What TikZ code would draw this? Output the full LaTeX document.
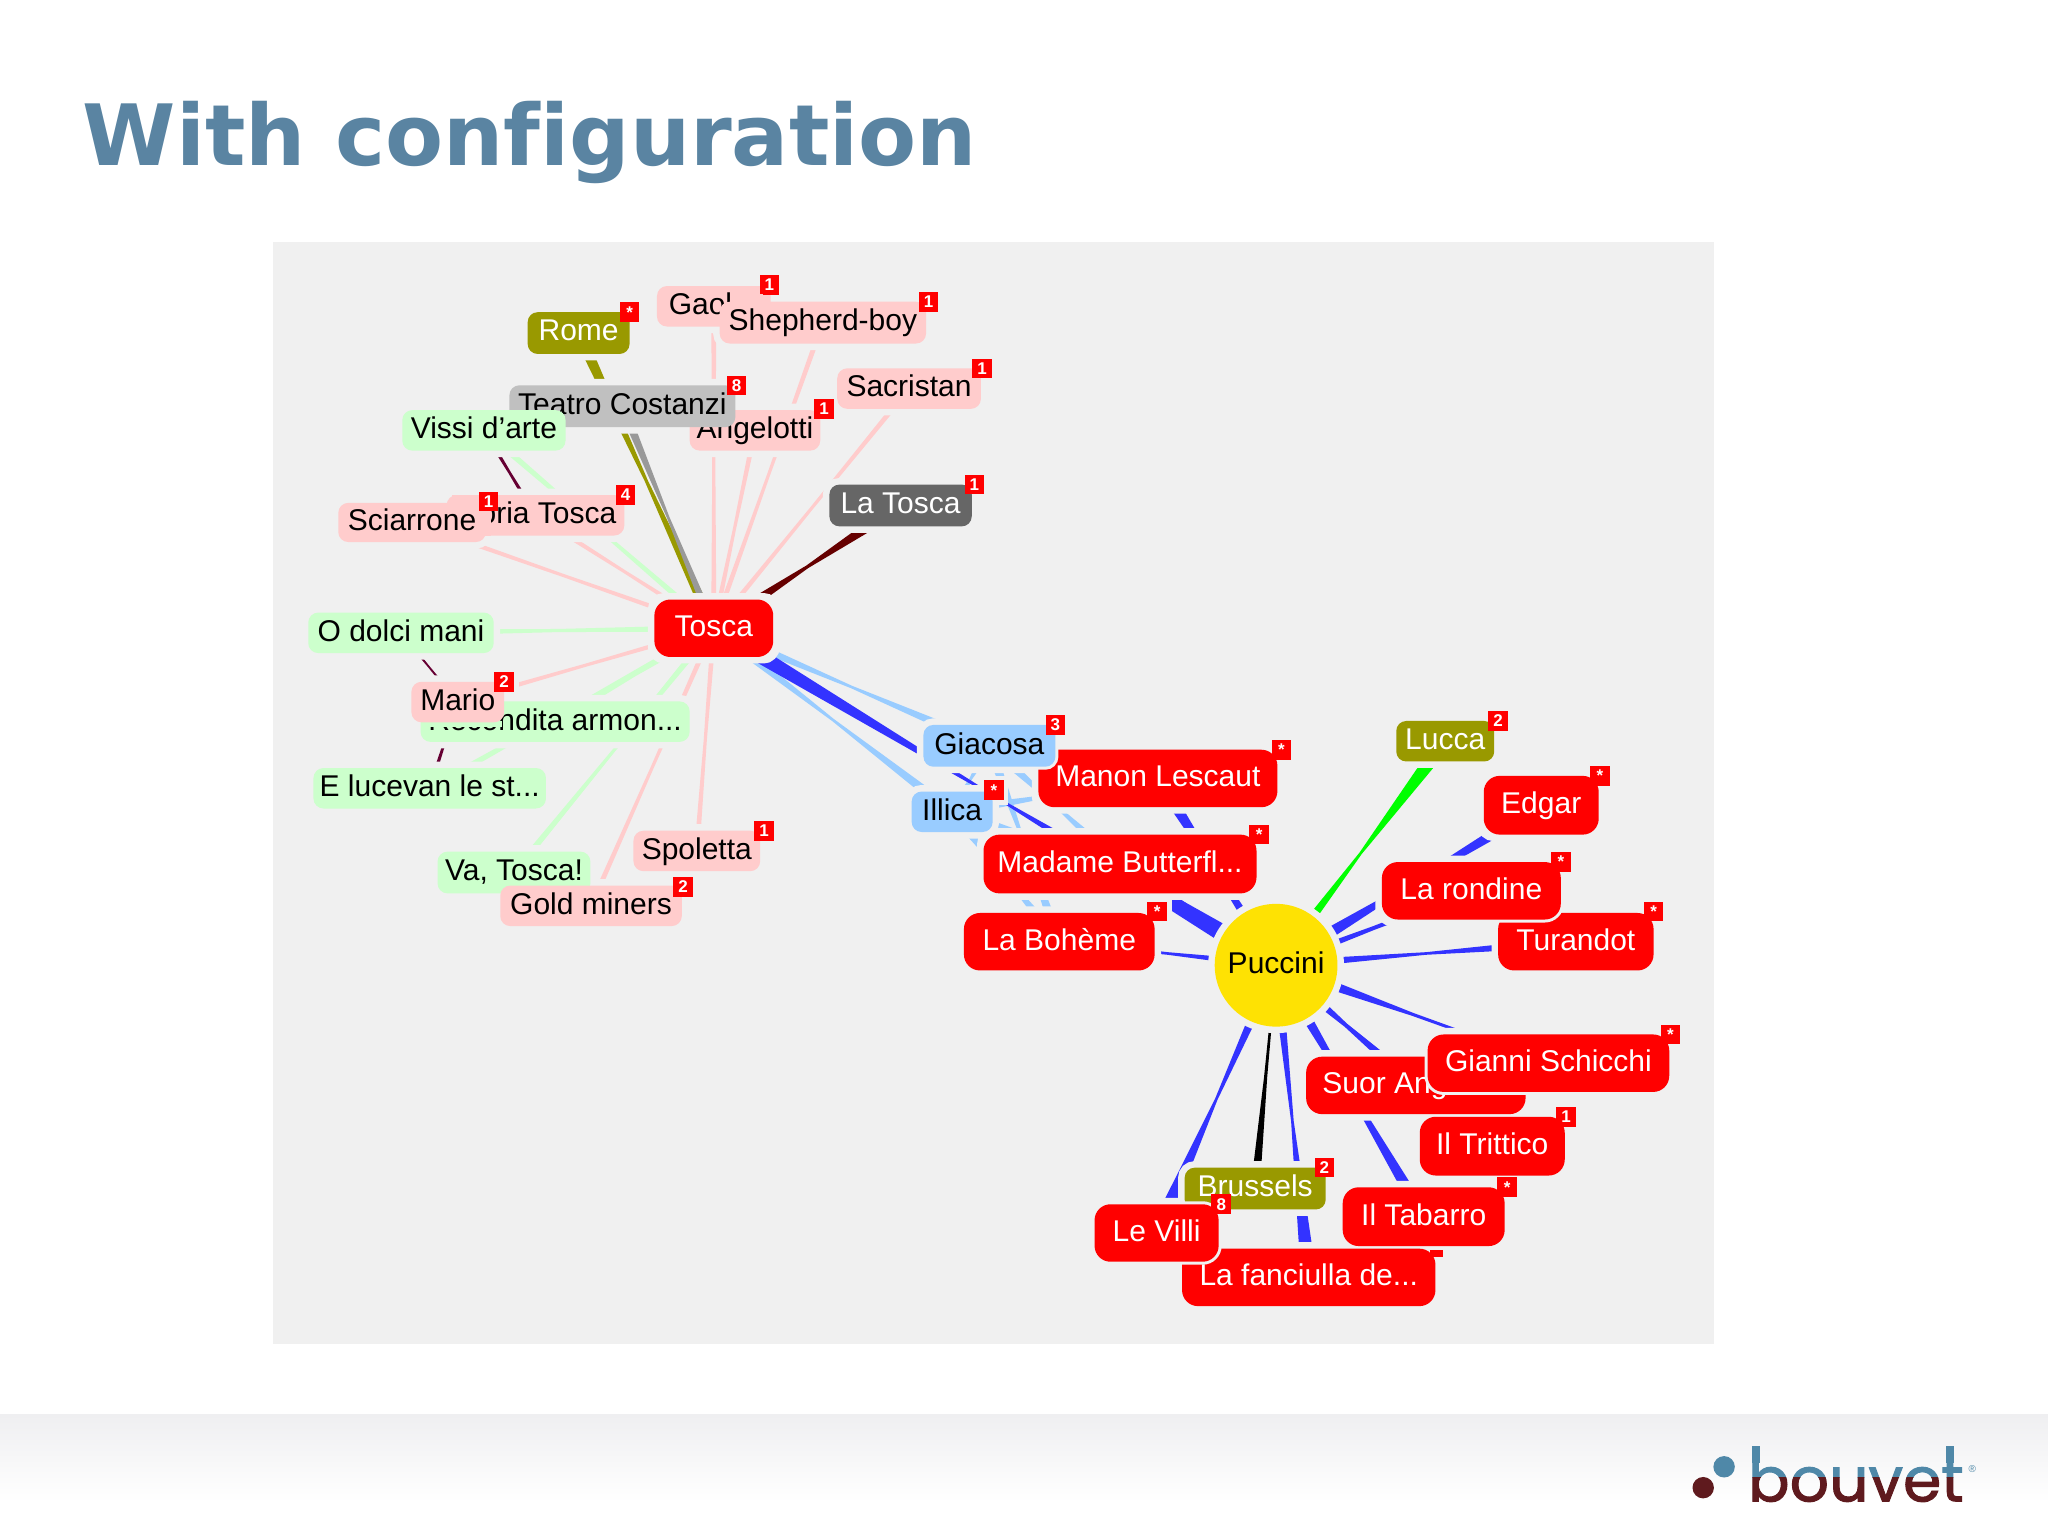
\documentclass[tikz,border=0pt]{standalone}
\usepackage{fontspec}
\setmainfont{Liberation Sans}
\newfontfamily\titlefont{DejaVu Sans}
\newfontfamily\logofont[FakeBold=1.6]{Poppins}
\usetikzlibrary{calc,shapes.geometric}
\pgfdeclarelayer{base}\pgfdeclarelayer{edges}\pgfdeclarelayer{halos}
\pgfsetlayers{base,edges,halos,main}
\definecolor{panelbg}{HTML}{F0F0F0}
\definecolor{pinkn}{HTML}{FFCCCC}
\definecolor{greenn}{HTML}{CCFFCC}
\definecolor{bluen}{HTML}{99CCFF}
\definecolor{oliven}{HTML}{999900}
\definecolor{grayn}{HTML}{C0C0C0}
\definecolor{darkn}{HTML}{666666}
\definecolor{maroonE}{HTML}{660033}
\definecolor{brownE}{HTML}{660000}
\definecolor{blueE}{HTML}{3333FF}
\definecolor{grayE}{HTML}{999999}
\definecolor{titleblue}{HTML}{5A84A2}
\definecolor{logoblue}{HTML}{4F88A8}
\definecolor{logored}{HTML}{5F1A1E}
\definecolor{bandgray}{HTML}{EFEFF1}
\def\uu{0.653061pt}
\tikzset{
  x=\uu,y=-\uu,
  nodebase/.style={rectangle,inner sep=0pt,outer sep=0pt,font=\fontsize{15}{15}\selectfont,text depth=2.5pt},
  softbox/.style={nodebase,rounded corners=5pt,text=black},
  pinkbox/.style={softbox,fill=pinkn},
  greenbox/.style={softbox,fill=greenn},
  bluebox/.style={softbox,fill=bluen},
  greybox/.style={softbox,fill=grayn},
  olivebox/.style={softbox,fill=oliven,text=white},
  darkbox/.style={softbox,fill=darkn,text=white},
  redbox/.style={nodebase,rounded corners=8pt,fill=red,text=white},
  ringed/.style={preaction={draw=panelbg,line width=3pt}},
  badge/.style={rectangle,fill=red,text=white,inner sep=0pt,minimum width=15*\uu,minimum height=15*\uu,font=\fontsize{8.5}{8.5}\selectfont\bfseries},
  halo/.style={draw=panelbg,fill=panelbg,line width=6.5pt,rounded corners=5pt}
}
% name x1 y1 x2 y2 style text
\newcommand\gn[7]{%
  \pgfmathsetmacro\nw{(#4-#2)*0.653061}\pgfmathsetmacro\nh{(#5-#3)*0.653061}%
  \node[#6,minimum width=\nw pt,minimum height=\nh pt] (#1) at ({(#2+#4)/2},{(#3+#5)/2}) {#7};
  \begin{pgfonlayer}{halos}\draw[halo] (#1.south west) rectangle (#1.north east);\end{pgfonlayer}}
\newcommand\bdg[4]{\node[badge] (b#1) at (#2,#3) {#4};
  \begin{pgfonlayer}{halos}\fill[panelbg] ($(#2,#3)+(-11,-11)$) rectangle ($(#2,#3)+(11,11)$);\end{pgfonlayer}}
% a b halfwidth-a halfwidth-mid halfwidth-b colour
\newcommand\conn[6]{%
  \coordinate (mid) at ($(#1)!.5!(#2)$);
  \fill[#6] ($(#1)!#3*\uu!90:(#2)$) -- ($(mid)!#4*\uu!90:(#2)$) -- ($(#2)!#5*\uu!-90:(#1)$)
    -- ($(#2)!#5*\uu!90:(#1)$) -- ($(mid)!#4*\uu!-90:(#2)$) -- ($(#1)!#3*\uu!-90:(#2)$) -- cycle;}
\begin{document}
\begin{tikzpicture}
\useasboundingbox (0,0) rectangle (1568,1176);
\begin{pgfonlayer}{base}
  \fill[white] (0,0) rectangle (1568,1176);
  \shade[top color=bandgray,bottom color=white] (0,1083) rectangle (1568,1150);
  \fill[panelbg] (209,185) rectangle (1312,1029);
\end{pgfonlayer}
\node[anchor=base west,inner sep=0pt,text=titleblue,font=\titlefont\bfseries\fontsize{42.3}{42}\selectfont] (title) at (63,127) {With con\mbox{f}iguration};
% Tosca side
\gn{gaoler}{503}{219}{590}{250}{pinkbox}{Gaoler}\bdg{gaoler}{589}{218}{1}
\fill[pinkn] (560,225) rectangle (584,233);
\gn{shepherd}{551}{231}{709}{263}{pinkbox}{Shepherd-boy}\bdg{shepherd}{711}{231}{1}
\gn{rome}{404}{239}{482}{271}{olivebox}{Rome}\bdg{rome}{482}{239}{*}
\gn{angelotti}{528}{314}{628}{345}{pinkbox}{Angelotti}\bdg{angelotti}{631}{313}{1}
\gn{teatro}{390}{295}{563}{327}{greybox}{Teatro Costanzi}\bdg{teatro}{564}{295}{8}
\gn{sacristan}{641}{282}{751}{313}{pinkbox}{Sacristan}\bdg{sacristan}{752}{282}{1}
\gn{floria}{342}{379}{478}{410}{pinkbox}{Floria Tosca}\bdg{floria}{479}{379}{4}
\fill[pinkn] (346,379) rectangle (376,410);
\gn{vissi}{308}{314}{433}{345}{greenbox}{Vissi d'arte}
\gn{sciarrone}{259}{385}{372}{415}{pinkbox}{Sciarrone}\bdg{sciarrone}{374}{384}{1}
\gn{latosca}{635}{371}{744}{403}{darkbox}{La Tosca}\bdg{latosca}{746}{371}{1}
\gn{tosca}{501}{459}{592}{503}{redbox}{Tosca}
\gn{dolci}{236}{469}{378}{500}{greenbox}{O dolci mani}
\gn{recondita}{322}{537}{528}{568}{greenbox}{Recondita armon...}
\fill[greenn] (324,552) rectangle (384,556.5);
\gn{mario}{315}{522}{386}{553}{pinkbox}{Mario}\bdg{mario}{386}{522}{2}
\gn{lucevan}{240}{588}{418}{619}{greenbox}{E lucevan le st...}
\gn{vatosca}{335}{652}{452}{684}{greenbox}{Va, Tosca!}
\gn{spoletta}{485}{636}{582}{667}{pinkbox}{Spoletta}\bdg{spoletta}{585}{636}{1}
\gn{gold}{383}{678}{522}{709}{pinkbox}{Gold miners}\bdg{gold}{523}{679}{2}
% Opera side
\gn{manon}{795}{574}{978}{618}{redbox}{Manon Lescaut}\bdg{manon}{981}{574}{*}
\gn{giacosa}{707}{555}{808}{587}{bluebox,ringed}{Giacosa}\bdg{giacosa}{808}{555}{3}
\gn{illica}{698}{606}{760}{637}{bluebox}{Illica}\bdg{illica}{761}{605}{*}
\gn{madame}{753}{639}{962}{684}{redbox}{Madame Butterfl...}\bdg{madame}{964}{639}{*}
\gn{boheme}{738}{699}{884}{743}{redbox}{La Bohème}\bdg{boheme}{886}{698}{*}
\node[circle,fill=yellow!85!orange,inner sep=0pt,minimum size=94*\uu,font=\fontsize{15}{15}\selectfont,text depth=2.5pt,text=black] (puccini) at (977,739) {Puccini};
\begin{pgfonlayer}{halos}\fill[panelbg] (puccini) circle (52);\end{pgfonlayer}
\gn{lucca}{1069}{552}{1144}{583}{olivebox}{Lucca}\bdg{lucca}{1147}{552}{2}
\gn{edgar}{1136}{594}{1224}{639}{redbox}{Edgar}\bdg{edgar}{1225}{594}{*}
\gn{turandot}{1147}{699}{1266}{743}{redbox}{Turandot}\bdg{turandot}{1266}{698}{*}
\gn{rondine}{1058}{660}{1195}{704}{redbox,ringed}{La rondine}\bdg{rondine}{1195}{660}{*}
\gn{suor}{1000}{809}{1168}{853}{redbox}{Suor Angelica}
\gn{gianni}{1093}{792}{1278}{836}{redbox,ringed}{Gianni Schicchi}\bdg{gianni}{1279}{792}{*}
\gn{trittico}{1087}{855}{1198}{900}{redbox}{Il Trittico}\bdg{trittico}{1199}{855}{1}
\gn{brussels}{907}{894}{1015}{926}{olivebox}{Brussels}\bdg{brussels}{1014}{894}{2}
\gn{fanciulla}{905}{956}{1099}{1000}{redbox}{La fanciulla de...}
\fill[red] (1095,957) rectangle (1105,962);
\gn{tabarro}{1028}{909}{1152}{954}{redbox}{Il Tabarro}\bdg{tabarro}{1154}{909}{*}
\gn{villi}{838}{922}{933}{966}{redbox,ringed}{Le Villi}\bdg{villi}{935}{922}{8}
% Connectors
\begin{pgfonlayer}{edges}
\foreach \t in {gaoler,shepherd,angelotti,sacristan,floria,sciarrone,mario,spoletta,gold}
  {\conn{tosca}{\t}{2}{1.2}{2}{pinkn}}
\foreach \t in {vissi,dolci,recondita,lucevan,vatosca}
  {\conn{tosca}{\t}{2.5}{1.2}{2.5}{greenn}}
\conn{rome}{tosca}{4.5}{1.2}{4}{oliven}
\conn{teatro}{tosca}{3.5}{1}{3}{grayE}
\conn{latosca}{tosca}{5}{1.2}{5}{brownE}
\conn{vissi}{floria}{1.6}{1}{1.6}{maroonE}
\conn{dolci}{mario}{1}{.7}{1}{maroonE}
\conn{mario}{lucevan}{1.6}{1}{1.6}{maroonE}
\foreach \t in {tosca,boheme,madame,manon,illica}
  {\conn{giacosa}{\t}{4}{1}{4}{bluen}}
\foreach \t in {tosca,boheme,madame,manon}
  {\conn{illica}{\t}{4}{1}{4}{bluen}}
\conn{tosca}{puccini}{6.5}{.7}{8}{blueE}
\conn{puccini}{lucca}{4.5}{1}{6}{green}
\conn{puccini}{manon}{4}{2}{5}{blueE}
\conn{puccini}{madame}{4}{2}{4}{blueE}
\conn{puccini}{boheme}{3}{1}{2}{blueE}
\conn{puccini}{edgar}{6}{1.5}{5}{blueE}
\conn{puccini}{rondine}{3}{1.5}{2}{blueE}
\conn{puccini}{turandot}{3.5}{1}{4}{blueE}
\conn{puccini}{gianni}{5}{1.2}{1}{blueE}
\conn{puccini}{suor}{5}{1.5}{4}{blueE}
\conn{puccini}{tabarro}{5}{1.5}{5}{blueE}
\conn{puccini}{villi}{4.5}{1}{6}{blueE}
\conn{puccini}{brussels}{.6}{1.2}{3.5}{black}
\conn{puccini}{fanciulla}{4}{1}{6}{blueE}
\end{pgfonlayer}
% Logo
\fill[logoblue] (1320,1123) circle (8.2);
\fill[logored] (1304,1139) circle (8.2);
\begin{scope}
  \clip (1335,1100) rectangle (1506,1131.5);
  \node[anchor=base west,inner sep=0pt,text=logoblue,font=\logofont\fontsize{30.8}{30}\selectfont] (logoa) at (1338,1149.5) {bouvet};
\end{scope}
\begin{scope}
  \clip (1335,1131.5) rectangle (1506,1160);
  \node[anchor=base west,inner sep=0pt,text=logored,font=\logofont\fontsize{30.8}{30}\selectfont] (logob) at (1338,1149.5) {bouvet};
\end{scope}
\fill[logoblue] (1341.5,1107) rectangle (1347.5,1120);
\fill[logoblue] (1490,1107) rectangle (1496,1120);
\node[inner sep=0pt,text=logoblue,font=\fontsize{5}{5}\selectfont] (logor) at (1510,1125) {®};
\end{tikzpicture}
\end{document}
